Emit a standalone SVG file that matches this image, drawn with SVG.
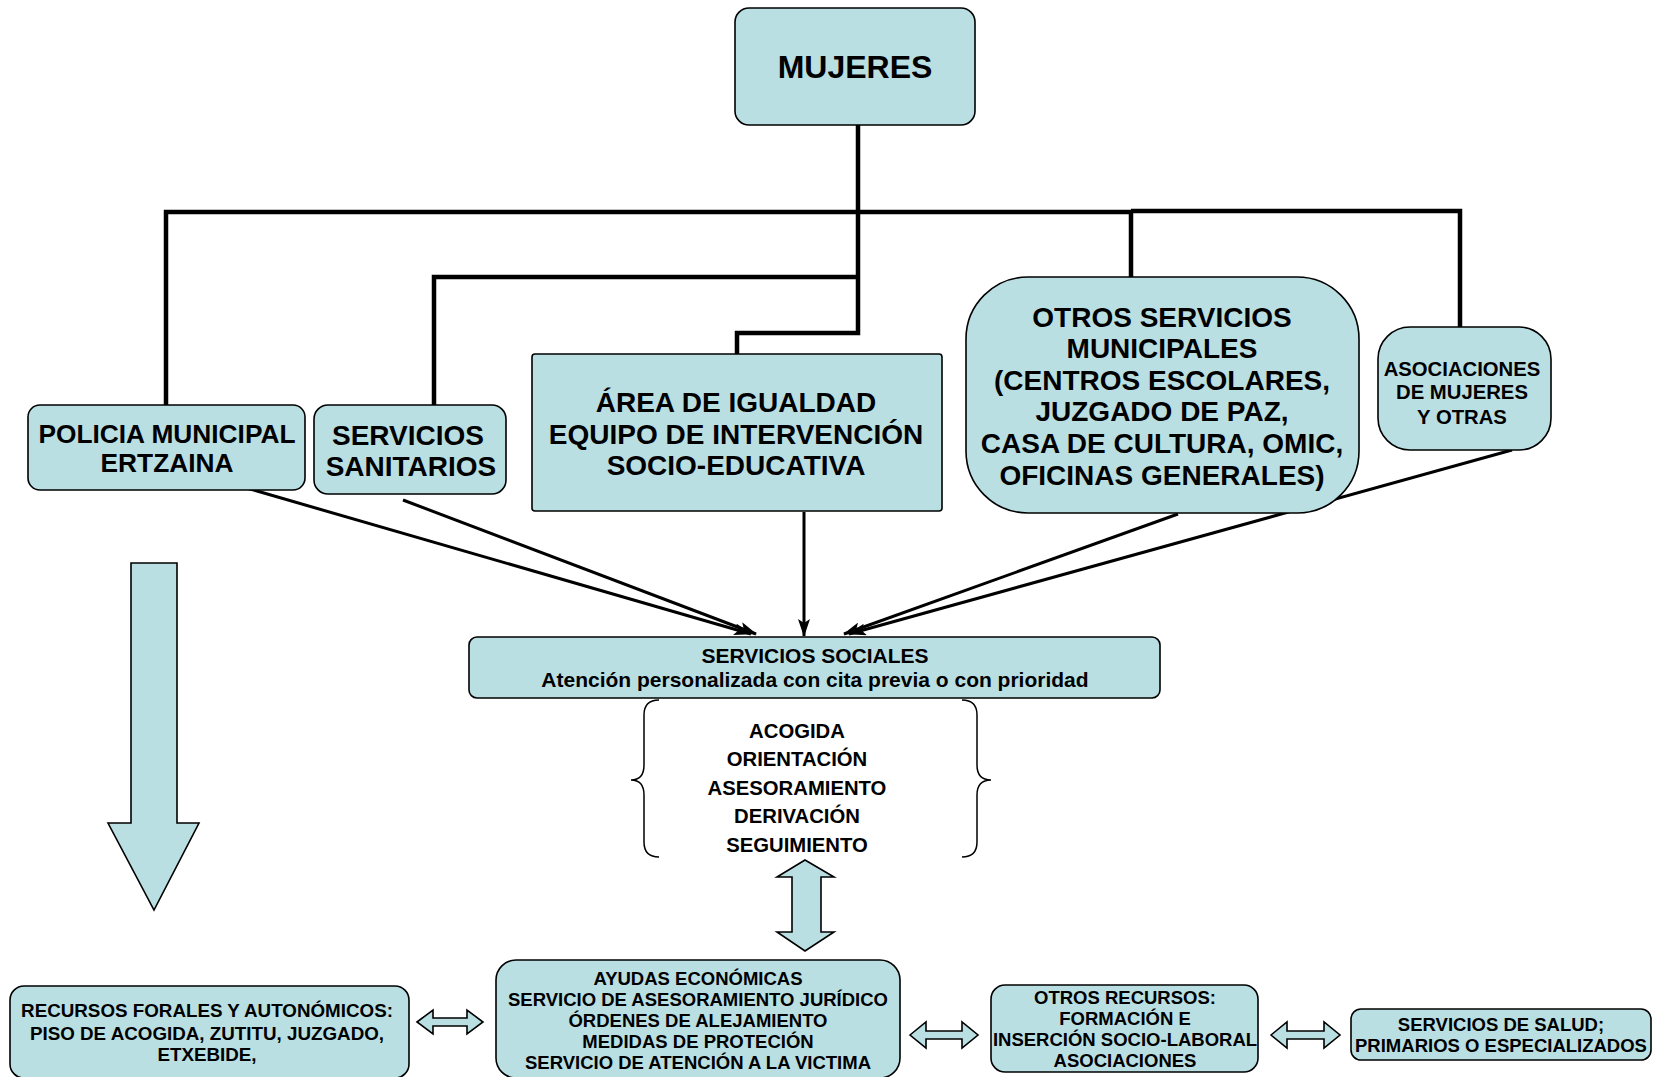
<svg xmlns="http://www.w3.org/2000/svg" width="1654" height="1077" viewBox="0 0 1654 1077">
<defs>
<marker id="ah" viewBox="0 0 18 12" refX="17" refY="6" markerWidth="18" markerHeight="12" markerUnits="userSpaceOnUse" orient="auto">
<path d="M0,0 L18,6 L0,12 L4,6 Z" fill="#000"/>
</marker>
</defs>
<style>
.box{fill:#BADFE3;stroke:#000;stroke-width:1.6}
.t{font-family:"Liberation Sans",Arial,sans-serif;font-weight:bold;fill:#000;text-anchor:middle}
.tree{fill:none;stroke:#000;stroke-width:4.5;stroke-linejoin:miter}
.arr{fill:none;stroke:#000;stroke-width:3;marker-end:url(#ah)}
.brace{fill:none;stroke:#000;stroke-width:1.5}
</style>
<rect width="1654" height="1077" fill="#fff"/>

<g id="connectors">
<path class="tree" d="M858,124 V333 H737 V354"/>
<path class="tree" d="M166,405 V212 H1131 V277"/>
<path class="tree" d="M1131,211 H1460 V327"/>
<path class="tree" d="M858,277 H434 V405"/>
<line class="arr" x1="243" y1="487" x2="751" y2="634"/>
<line class="arr" x1="403" y1="500" x2="756" y2="634"/>
<line class="arr" x1="804" y1="512" x2="804" y2="636"/>
<line class="arr" x1="1178" y1="514" x2="844" y2="634"/>
<line class="arr" x1="1512" y1="450" x2="849" y2="634"/>
<polygon class="box" points="131,563 177,563 177,823 199,823 154,910 108,823 131,823"/>
<polygon class="box" points="805,860 834,877 821,877 821,932 834,932 805,951 777,932 792,932 792,877 777,877"/>
<polygon class="box" points="417,1022 433,1010 433,1018 467,1018 467,1010 483,1022 467,1034 467,1026 433,1026 433,1034"/>
<polygon class="box" points="910,1035 926,1022 926,1031 962,1031 962,1022 978,1035 962,1048 962,1039 926,1039 926,1048"/>
<polygon class="box" points="1271,1035 1287,1022 1287,1031 1324,1031 1324,1022 1340,1035 1324,1048 1324,1039 1287,1039 1287,1048"/>
</g>

<g id="mujeres">
<rect class="box" x="735" y="8" width="240" height="117" rx="14"/>
<text class="t" x="855" y="78" font-size="32">MUJERES</text>
</g>

<g id="policia">
<rect class="box" x="28" y="405" width="277" height="85" rx="12"/>
<text class="t" x="167" y="443" font-size="26.3">POLICIA MUNICIPAL</text>
<text class="t" x="167" y="472" font-size="26.3">ERTZAINA</text>
</g>

<g id="sanitarios">
<rect class="box" x="314" y="405" width="192" height="89" rx="14"/>
<text class="t" x="408" y="445" font-size="28">SERVICIOS</text>
<text class="t" x="411" y="476" font-size="28">SANITARIOS</text>
</g>

<g id="area">
<rect class="box" x="532" y="354" width="410" height="157" rx="3"/>
<text class="t" x="736" y="412" font-size="28">ÁREA DE IGUALDAD</text>
<text class="t" x="736" y="444" font-size="28">EQUIPO DE INTERVENCIÓN</text>
<text class="t" x="736" y="475" font-size="28">SOCIO-EDUCATIVA</text>
</g>

<g id="otros-servicios">
<rect class="box" x="966" y="277" width="393" height="236" rx="62"/>
<text class="t" x="1162" y="327" font-size="28">OTROS SERVICIOS</text>
<text class="t" x="1162" y="358" font-size="28">MUNICIPALES</text>
<text class="t" x="1162" y="390" font-size="28">(CENTROS ESCOLARES,</text>
<text class="t" x="1162" y="421" font-size="28">JUZGADO DE PAZ,</text>
<text class="t" x="1162" y="453" font-size="28">CASA DE CULTURA, OMIC,</text>
<text class="t" x="1162" y="485" font-size="28">OFICINAS GENERALES)</text>
</g>

<g id="asociaciones">
<rect class="box" x="1378" y="327" width="173" height="123" rx="32"/>
<text class="t" x="1462" y="376" font-size="20.3">ASOCIACIONES</text>
<text class="t" x="1462" y="399" font-size="20.3">DE MUJERES</text>
<text class="t" x="1462" y="424" font-size="20.3">Y OTRAS</text>
</g>

<g id="servicios-sociales">
<rect class="box" x="469" y="637" width="691" height="61" rx="8"/>
<text class="t" x="815" y="663" font-size="21">SERVICIOS SOCIALES</text>
<text class="t" x="815" y="687" font-size="21">Atención personalizada con cita previa o con prioridad</text>
</g>

<g id="funciones">
<path class="brace" d="M659,700 Q644,700 644,715 V765 Q644,780 631,780 Q644,780 644,795 V842 Q644,857 659,857"/>
<path class="brace" d="M962,700 Q977,700 977,715 V765 Q977,780 991,780 Q977,780 977,795 V842 Q977,857 962,857"/>
<text class="t" x="797" y="738" font-size="20.3">ACOGIDA</text>
<text class="t" x="797" y="766" font-size="20.3">ORIENTACIÓN</text>
<text class="t" x="797" y="795" font-size="20.3">ASESORAMIENTO</text>
<text class="t" x="797" y="823" font-size="20.3">DERIVACIÓN</text>
<text class="t" x="797" y="852" font-size="20.3">SEGUIMIENTO</text>
</g>

<g id="recursos-forales">
<rect class="box" x="10" y="986" width="399" height="92" rx="14"/>
<text class="t" x="207" y="1017" font-size="18.8">RECURSOS FORALES Y AUTONÓMICOS:</text>
<text class="t" x="207" y="1040" font-size="18.8">PISO DE ACOGIDA, ZUTITU, JUZGADO,</text>
<text class="t" x="207" y="1061" font-size="18.8">ETXEBIDE,</text>
</g>

<g id="ayudas">
<rect class="box" x="496" y="960" width="404" height="118" rx="20"/>
<text class="t" x="698" y="985" font-size="18.5">AYUDAS ECONÓMICAS</text>
<text class="t" x="698" y="1006" font-size="18.5">SERVICIO DE ASESORAMIENTO JURÍDICO</text>
<text class="t" x="698" y="1027" font-size="18.5">ÓRDENES DE ALEJAMIENTO</text>
<text class="t" x="698" y="1048" font-size="18.5">MEDIDAS DE PROTECIÓN</text>
<text class="t" x="698" y="1069" font-size="18.5">SERVICIO DE ATENCIÓN A LA VICTIMA</text>
</g>

<g id="otros-recursos">
<rect class="box" x="991" y="985" width="267" height="87" rx="14"/>
<text class="t" x="1125" y="1004" font-size="18.5">OTROS RECURSOS:</text>
<text class="t" x="1125" y="1025" font-size="18.5">FORMACIÓN E</text>
<text class="t" x="1125" y="1046" font-size="18.5">INSERCIÓN SOCIO-LABORAL</text>
<text class="t" x="1125" y="1067" font-size="18.5">ASOCIACIONES</text>
</g>

<g id="salud">
<rect class="box" x="1351" y="1009" width="300" height="51" rx="10"/>
<text class="t" x="1501" y="1031" font-size="18.5">SERVICIOS DE SALUD;</text>
<text class="t" x="1501" y="1052" font-size="18.5">PRIMARIOS O ESPECIALIZADOS</text>
</g>
</svg>
